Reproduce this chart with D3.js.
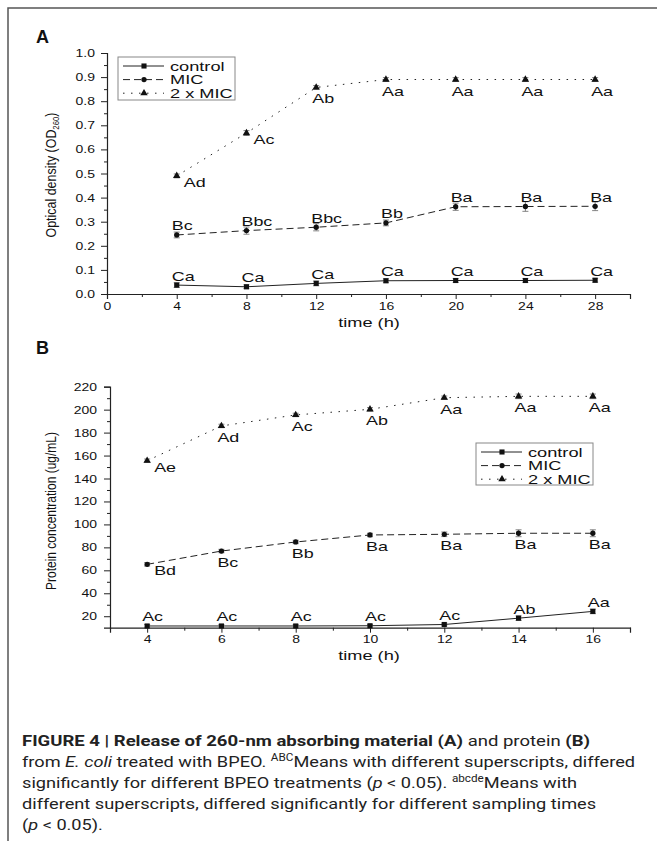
<!DOCTYPE html>
<html>
<head>
<meta charset="utf-8">
<script src="https://cdn.jsdelivr.net/npm/d3@7"></script>
<style>
  body { margin: 0; background: #fff; }
  svg { display: block; }
  text { font-family: "Liberation Sans", Arial, Helvetica, sans-serif; fill: #111; }
  .caption text { font-family: Roboto, "Liberation Sans", sans-serif; fill: #222; }
</style>
</head>
<body>
<svg id="fig" width="657" height="841"></svg>
<script>
// ---- data: panel A (OD260) ----
const timesA = [4, 8, 12, 16, 20, 24, 28];
const controlA = [0.037, 0.030, 0.044, 0.055, 0.056, 0.056, 0.057];
const micA = [0.245, 0.263, 0.277, 0.295, 0.362, 0.363, 0.364];
const mic2A = [0.490, 0.668, 0.857, 0.890, 0.890, 0.890, 0.890];
const errControlA = [0.010, 0.008, 0.010, 0.008, 0.008, 0.008, 0.008];
const errMicA = [0.012, 0.015, 0.015, 0.012, 0.015, 0.020, 0.018];
const errMic2A = [0.008, 0.010, 0.008, 0.008, 0.008, 0.008, 0.008];
const lettersControlA = ["Ca", "Ca", "Ca", "Ca", "Ca", "Ca", "Ca"];
const lettersMicA = ["Bc", "Bbc", "Bbc", "Bb", "Ba", "Ba", "Ba"];
const lettersMic2A = ["Ad", "Ac", "Ab", "Aa", "Aa", "Aa", "Aa"];
const placeMic2A = ["right", "right", "below", "below", "below", "below", "below"];
const xTicksA = [0, 4, 8, 12, 16, 20, 24, 28];
const yTicksA = [0, 0.1, 0.2, 0.3, 0.4, 0.5, 0.6, 0.7, 0.8, 0.9, 1.0];

// ---- data: panel B (protein) ----
const timesB = [4, 6, 8, 10, 12, 14, 16];
const controlB = [11.5, 11.5, 11.5, 11.7, 12.8, 18.3, 24.2];
const micB = [65.2, 76.8, 84.7, 90.8, 91.4, 92.3, 92.3];
const mic2B = [155.5, 185.8, 195.4, 200.3, 210.4, 211.6, 211.6];
const errControlB = [1.2, 1.2, 1.2, 1.2, 1.2, 2.0, 2.0];
const errMicB = [1.5, 1.5, 1.5, 1.5, 2.0, 3.0, 3.0];
const errMic2B = [1.5, 1.5, 1.5, 1.5, 1.5, 2.0, 2.0];
const lettersControlB = ["Ac", "Ac", "Ac", "Ac", "Ac", "Ab", "Aa"];
const lettersMicB = ["Bd", "Bc", "Bb", "Ba", "Ba", "Ba", "Ba"];
const lettersMic2B = ["Ae", "Ad", "Ac", "Ab", "Aa", "Aa", "Aa"];
const placeMicB = ["right", "below", "below", "below", "below", "below", "below"];
const placeMic2B = ["right", "below", "below", "below", "below", "below", "below"];
const xTicksB = [4, 6, 8, 10, 12, 14, 16];
const yTicksB = [20, 40, 60, 80, 100, 120, 140, 160, 180, 200, 220];

const seriesNames = ["control", "MIC", "2 x MIC"];

const K = 1.4; // the original figure is stretched horizontally
const svg = d3.select("#fig");

// frame of the figure (top and left edges)
svg.append("path").attr("d", "M8,841V8H657").attr("fill", "none")
    .attr("stroke", "#555").attr("stroke-width", 1.5);

const styles = [
    { dash: null, symbol: d3.symbolSquare, size: 26 },
    { dash: "7,4", symbol: d3.symbolCircle, size: 22 },
    { dash: "1.5,6.5", symbol: d3.symbolTriangle, size: 24 }
];

function sText(parent, x, y, str, size, anchor) {
    return parent.append("text")
        .attr("transform", `translate(${x},${y}) scale(${K},1)`)
        .attr("text-anchor", anchor || "start")
        .style("font-size", size + "px")
        .text(str);
}

const placeOffset = {
    above: [-5, -4.5],
    below: [-4, 16],
    right: [7, 11]
};

function drawPanel(cfg) {
    const g = svg.append("g");
    const x = cfg.x, y = cfg.y;

    // panel letter
    g.append("text").attr("x", 36).attr("y", cfg.letterY)
        .style("font-size", "18px").style("font-weight", "bold").text(cfg.letter);

    // minor ticks
    g.append("g").attr("transform", `translate(0,${y.range()[0]})`)
        .call(d3.axisBottom(x).tickValues(cfg.xMinor).tickSize(3).tickFormat(""))
        .call(a => a.select(".domain").remove());
    g.append("g").attr("transform", `translate(${x.range()[0]},0)`)
        .call(d3.axisLeft(y).tickValues(cfg.yMinor).tickSize(3).tickFormat(""))
        .call(a => a.select(".domain").remove());

    // major axes
    const xa = g.append("g").attr("transform", `translate(0,${y.range()[0]})`)
        .call(d3.axisBottom(x).tickValues(cfg.xTicks).tickSizeOuter(0).tickSize(5));
    xa.selectAll("text").attr("y", null).attr("dy", null)
        .attr("transform", `translate(0,${cfg.xLabelOff}) scale(${K},1)`)
        .style("font-size", "10px").style("font-family", null);
    const ya = g.append("g").attr("transform", `translate(${x.range()[0]},0)`)
        .call(d3.axisLeft(y).tickValues(cfg.yTicks).tickSizeOuter(0).tickSize(6).tickFormat(cfg.yFormat));
    ya.selectAll("text").attr("x", null).attr("dy", null)
        .attr("transform", `translate(${cfg.yLabelOff},3.5) scale(${K},1)`)
        .style("font-size", "10px").style("font-family", null);
    g.selectAll(".domain").attr("stroke", "#222").attr("stroke-width", 1.2);
    g.selectAll(".tick line").attr("stroke", "#222");

    // axis titles
    sText(g, cfg.xTitleX, cfg.xTitleY, "time (h)", 13, "middle");
    const yt = g.append("text")
        .attr("transform", `translate(56,${cfg.yTitleY}) rotate(-90) scale(1,1.15)`)
        .attr("text-anchor", "middle")
        .attr("textLength", cfg.yTitleLen).attr("lengthAdjust", "spacingAndGlyphs")
        .style("font-size", "12px");
    cfg.yTitle(yt);

    // series
    cfg.series.forEach((s, i) => {
        const st = styles[i];
        const pts = cfg.times.map((t, j) => ({ t, v: s.values[j], e: s.err[j], lab: s.letters[j], pl: s.place[j] }));
        const line = d3.line().x(d => x(d.t)).y(d => y(d.v));
        g.append("path").datum(pts).attr("d", line)
            .attr("fill", "none").attr("stroke", "#222").attr("stroke-width", 1)
            .attr("stroke-dasharray", st.dash);

        // error bars
        const eb = g.append("g").attr("stroke", "#777").attr("stroke-width", 0.9);
        pts.forEach(d => {
            const x0 = x(d.t), y1 = y(d.v + d.e), y2 = y(d.v - d.e);
            eb.append("path").attr("d", `M${x0},${y1}V${y2}M${x0 - 3},${y1}H${x0 + 3}M${x0 - 3},${y2}H${x0 + 3}`);
        });

        g.append("g").selectAll("path.mk").data(pts).join("path")
            .attr("transform", d => `translate(${x(d.t)},${y(d.v)})`)
            .attr("d", d3.symbol().type(st.symbol).size(st.size))
            .attr("fill", "#111");

        pts.forEach(d => {
            const off = placeOffset[d.pl];
            sText(g, x(d.t) + off[0], y(d.v) + off[1], d.lab, 12.8, "start");
        });
    });

    // legend
    const lg = g.append("g");
    const L = cfg.legend;
    lg.append("rect").attr("x", L.x).attr("y", L.y).attr("width", L.w).attr("height", L.h)
        .attr("fill", "#fff").attr("stroke", "#888").attr("stroke-width", 1);
    seriesNames.forEach((name, i) => {
        const st = styles[i];
        const ry = L.y + 9 + i * 13.6;
        lg.append("line").attr("x1", L.x + 5).attr("x2", L.x + 46).attr("y1", ry).attr("y2", ry)
            .attr("stroke", "#222").attr("stroke-width", 1).attr("stroke-dasharray", st.dash);
        lg.append("path").attr("transform", `translate(${L.x + 26},${ry})`)
            .attr("d", d3.symbol().type(st.symbol).size(st.size)).attr("fill", "#111");
        sText(lg, L.x + 52, ry + 4.6, name, 13, "start");
    });
}

// ---- panel A ----
drawPanel({
    letter: "A", letterY: 43,
    times: timesA,
    x: d3.scaleLinear().domain([0, 30]).range([107, 630]),
    y: d3.scaleLinear().domain([0, 1]).range([294, 53]),
    xTicks: xTicksA, yTicks: yTicksA,
    xMinor: d3.range(2, 31, 4), yMinor: d3.range(0.05, 1, 0.1),
    yFormat: d3.format(".1f"),
    xLabelOff: 16, yLabelOff: -12,
    xTitleX: 369, xTitleY: 327,
    yTitleY: 175, yTitleLen: 125,
    yTitle: t => {
        t.append("tspan").text("Optical density (OD");
        t.append("tspan").attr("dy", 3).style("font-size", "7.5px").text("260");
        t.append("tspan").attr("dy", -3).text(")");
    },
    series: [
        { values: controlA, err: errControlA, letters: lettersControlA, place: lettersControlA.map(() => "above") },
        { values: micA, err: errMicA, letters: lettersMicA, place: lettersMicA.map(() => "above") },
        { values: mic2A, err: errMic2A, letters: lettersMic2A, place: placeMic2A }
    ],
    legend: { x: 118, y: 57, w: 117, h: 43 }
});

// ---- panel B ----
drawPanel({
    letter: "B", letterY: 354,
    times: timesB,
    x: d3.scaleLinear().domain([3, 17]).range([110, 630]),
    y: d3.scaleLinear().domain([10, 220]).range([627.7, 386.7]),
    xTicks: xTicksB, yTicks: yTicksB,
    xMinor: d3.range(3, 18, 2), yMinor: d3.range(30, 220, 20),
    yFormat: d3.format("d"),
    xLabelOff: 15.5, yLabelOff: -13,
    xTitleX: 369, xTitleY: 660,
    yTitleY: 511, yTitleLen: 158,
    yTitle: t => t.text("Protein concentration (ug/mL)"),
    series: [
        { values: controlB, err: errControlB, letters: lettersControlB, place: lettersControlB.map(() => "above") },
        { values: micB, err: errMicB, letters: lettersMicB, place: placeMicB },
        { values: mic2B, err: errMic2B, letters: lettersMic2B, place: placeMic2B }
    ],
    legend: { x: 476, y: 443, w: 117, h: 42 }
});

// ---- caption: one condensed block, squeezed so line 2 fits the width ----
const cap = svg.append("g").attr("class", "caption").style("font-size", "15.5px");
function capLine(y, parts) {
    const t = cap.append("text").attr("x", 0).attr("y", y);
    parts.forEach(p => {
        const ts = t.append("tspan").text(p.t);
        if (p.b) ts.style("font-weight", "bold");
        if (p.i) ts.style("font-style", "italic");
        if (p.sup) ts.style("font-size", "10px").attr("dy", -6);
        if (p.after) ts.attr("dy", 6);
    });
    return t;
}
const line1 = capLine(746, [
    { t: "FIGURE 4 | Release of 260-nm absorbing material (A)", b: true },
    { t: " and protein " },
    { t: "(B)", b: true }
]);
const line2 = capLine(767, [
    { t: "from " }, { t: "E. coli", i: true }, { t: " treated with BPEO. " },
    { t: "ABC", sup: true }, { t: "Means with different superscripts, differed", after: true }
]);
capLine(788, [
    { t: "significantly for different BPEO treatments (" }, { t: "p", i: true },
    { t: " < 0.05). " }, { t: "abcde", sup: true }, { t: "Means with", after: true }
]);
capLine(809, [
    { t: "different superscripts, differed significantly for different sampling times" }
]);
capLine(830, [
    { t: "(" }, { t: "p", i: true }, { t: " < 0.05)." }
]);
const sx = 614 / line2.node().getComputedTextLength();
cap.attr("transform", `translate(22,0) scale(${sx},1)`);
// the bold heading runs a little wider in the original
line1.attr("textLength", 568 / sx).attr("lengthAdjust", "spacingAndGlyphs");
</script>
</body>
</html>
